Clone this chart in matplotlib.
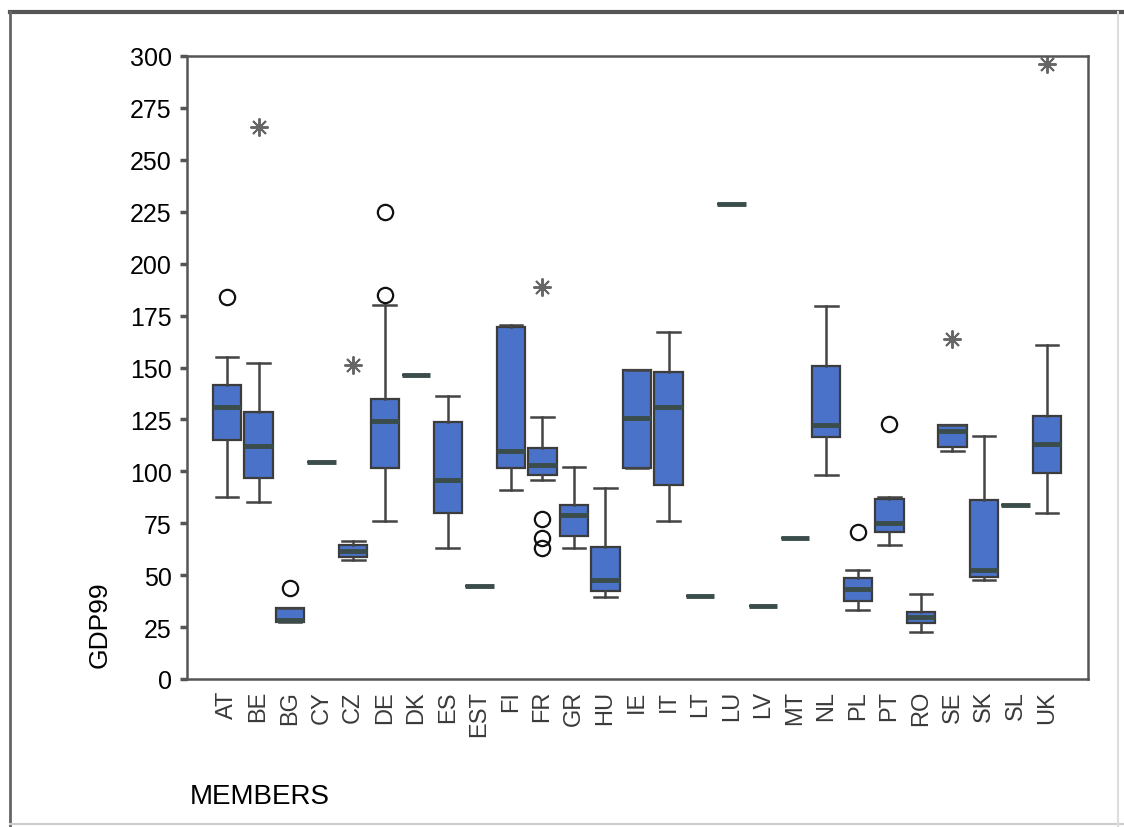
import numpy as np
import matplotlib
matplotlib.use("Agg")
import matplotlib.pyplot as plt
from matplotlib.lines import Line2D

plt.rcParams['font.family'] = ['Liberation Sans', 'DejaVu Sans']

# members on the x axis
members = ['AT', 'BE', 'BG', 'CY', 'CZ', 'DE', 'DK', 'ES', 'EST', 'FI', 'FR', 'GR', 'HU', 'IE',
           'IT', 'LT', 'LU', 'LV', 'MT', 'NL', 'PL', 'PT', 'RO', 'SE', 'SK', 'SL', 'UK']

# five-number summaries of GDP99
whislo = [87.6, 85.0, 27.5, 104.5, 57.3, 76.3, 146.4, 63.0, 44.6, 91.0, 95.6, 63.0, 39.3, 101.6,
          76.3, 40.1, 228.5, 35.0, 68.0, 98.3, 33.4, 64.4, 22.4, 109.8, 47.7, 84.0, 80.0]
q1 = [115.0, 97.0, 27.5, 104.5, 58.6, 101.8, 146.4, 79.9, 44.6, 101.6, 98.0, 68.7, 42.5, 101.6,
      93.2, 40.1, 228.5, 35.0, 68.0, 116.7, 37.6, 71.0, 26.8, 111.8, 49.1, 84.0, 99.3]
med = [131.0, 112.0, 28.5, 104.5, 61.5, 124.3, 146.4, 96.0, 44.6, 110.0, 103.0, 79.2, 47.8, 125.8,
       131.0, 40.1, 228.5, 35.0, 68.0, 122.3, 43.3, 75.3, 29.7, 119.2, 52.7, 84.0, 113.3]
q3 = [141.5, 128.6, 34.0, 104.5, 64.3, 134.8, 146.4, 123.8, 44.6, 169.7, 111.0, 84.0, 63.8, 149.0,
      148.0, 40.1, 228.5, 35.0, 68.0, 150.5, 48.5, 86.8, 32.4, 122.3, 86.1, 84.0, 126.5]
whishi = [155.0, 152.0, 34.0, 104.5, 66.3, 180.0, 146.4, 136.4, 44.6, 170.5, 126.0, 102.0, 92.0, 149.0,
          167.0, 40.1, 228.5, 35.0, 68.0, 179.4, 52.7, 87.8, 40.8, 122.3, 117.0, 84.0, 160.6]

# outliers (circles) and extremes (stars)
outlier_members = ['AT', 'BG', 'DE', 'DE', 'FR', 'FR', 'FR', 'PL', 'PT']
outlier_values = [184, 44, 185, 224.8, 77, 68, 63, 71, 123]
extreme_members = ['BE', 'CZ', 'FR', 'SE', 'UK']
extreme_values = [266, 151, 188.7, 163.5, 296]

stats = []
for i, m in enumerate(members):
    stats.append(dict(label=m, whislo=whislo[i], q1=q1[i], med=med[i], q3=q3[i],
                      whishi=whishi[i], fliers=[]))

fig = plt.figure(figsize=(11.24, 8.28), dpi=100)
ax = fig.add_axes([187 / 1124, 1 - 680 / 828, (1088 - 187) / 1124, (680 - 57) / 828])

pos = np.arange(len(members))
ax.bxp(stats, positions=pos, widths=0.9, capwidths=0.72, patch_artist=True,
       boxprops=dict(facecolor='#4a72c8', edgecolor='#3c3c3c', linewidth=1.6),
       medianprops=dict(color='#3a4d4b', linewidth=3.5),
       whiskerprops=dict(color='#444444', linewidth=1.8),
       capprops=dict(color='#444444', linewidth=1.8),
       showfliers=False, manage_ticks=False)

idx = {m: i for i, m in enumerate(members)}
ax.plot([idx[m] for m in outlier_members], outlier_values, linestyle='none', marker='o',
        markersize=11, markerfacecolor='none', markeredgecolor='#111111', markeredgewidth=1.6)
ax.plot([idx[m] for m in extreme_members], extreme_values, linestyle='none', marker=(8, 2, 0),
        markersize=13, markeredgecolor='#666666', markeredgewidth=1.4)

ax.set_xlim(-1.27, len(members) - 1 + 1.3)
ax.set_ylim(0, 300)
ax.set_yticks(np.arange(0, 301, 25))
ax.tick_params(axis='y', labelsize=18, length=5, width=2.5, color='#555555', pad=6)
ax.set_xticks(pos)
ax.set_xticklabels(members, rotation=90, fontsize=17, color='#3a3a3a')
ax.tick_params(axis='x', length=0, pad=8)
for s in ax.spines.values():
    s.set_color('#555555')
    s.set_linewidth(1.8)

fig.text(100 / 1124, 1 - 625 / 828, 'GDP99', rotation=90, fontsize=19, ha='center', va='center')
fig.text(190 / 1124, 1 - 797 / 828, 'MEMBERS', fontsize=20, ha='left', va='center')

# outer frame of the chart
fig.add_artist(Line2D([10 / 1124, 1], [1 - 13 / 828, 1 - 13 / 828], color='#555555', linewidth=3))
fig.add_artist(Line2D([10 / 1124, 10 / 1124], [1 - 13 / 828, 0], color='#666666', linewidth=2))
fig.add_artist(Line2D([10 / 1124, 1], [1 - 825 / 828, 1 - 825 / 828], color='#cccccc', linewidth=1.5))
fig.add_artist(Line2D([1118 / 1124, 1118 / 1124], [1 - 13 / 828, 0], color='#dddddd', linewidth=1.5))

fig.savefig('out.png', dpi=100)
